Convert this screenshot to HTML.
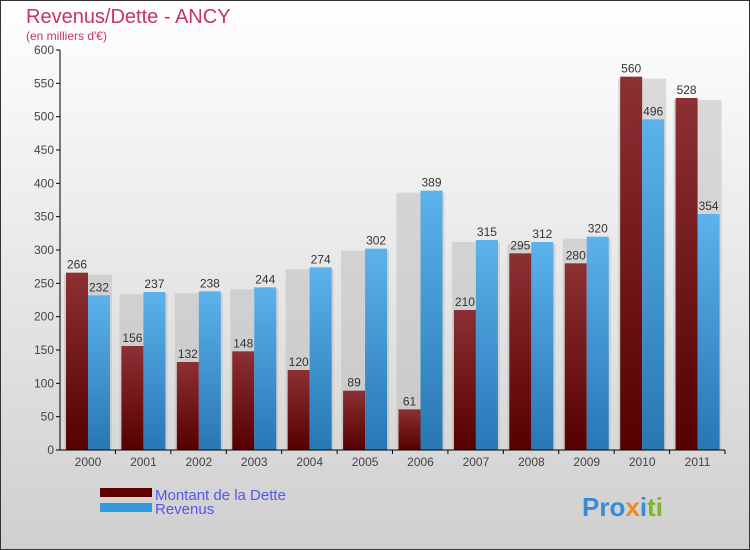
<!DOCTYPE html>
<html><head><meta charset="utf-8"><style>
body{margin:0;width:750px;height:550px;overflow:hidden}
svg{display:block;font-family:"Liberation Sans",sans-serif}
</style></head><body>
<svg id="c" width="750" height="550">
<defs>
<linearGradient id="bg" x1="0" y1="0" x2="0" y2="1"><stop offset="0" stop-color="#ffffff"/><stop offset="1" stop-color="#cfcfcf"/></linearGradient>
<linearGradient id="gd" x1="0" y1="0" x2="0" y2="1"><stop offset="0" stop-color="#8c3034"/><stop offset="1" stop-color="#560000"/></linearGradient>
<linearGradient id="gr" x1="0" y1="0" x2="0" y2="1"><stop offset="0" stop-color="#5cb2ea"/><stop offset="1" stop-color="#2777b5"/></linearGradient>
</defs>
<rect x="0.5" y="0.5" width="749" height="549" fill="url(#bg)" stroke="#333"/>
<text x="26" y="23" font-size="20" fill="#c8326a">Revenus/Dette - ANCY</text>
<text x="26" y="40" font-size="12" fill="#c8326a">(en milliers d'€)</text>
<g id="plot"></g>
<rect x="100" y="488" width="52" height="9" fill="#600000"/>
<rect x="100" y="503" width="52" height="9" fill="#3399dd"/>
<text x="155" y="500" font-size="15" fill="#5555ee">Montant de la Dette</text>
<text x="155" y="514" font-size="15" fill="#5555ee">Revenus</text>
<text x="582" y="516" font-size="26" font-weight="bold"><tspan fill="#3a8ad8">Pro</tspan><tspan fill="#f08a20">x</tspan><tspan fill="#3a8ad8">i</tspan><tspan fill="#7ab82a">ti</tspan></text>
</svg>
<script>
const years=["2000","2001","2002","2003","2004","2005","2006","2007","2008","2009","2010","2011"];
const dette=[266,156,132,148,120,89,61,210,295,280,560,528];
const revenus=[232,237,238,244,274,302,389,315,312,320,496,354];
const yTicks=[0,50,100,150,200,250,300,350,400,450,500,550,600];
const NS="http://www.w3.org/2000/svg";
const g=document.getElementById('plot');
const x0=60,x1=725,yTop=50,yBot=450,yMax=600;
const gw=(x1-x0)/years.length;
const y=v=>yBot-(v/yMax)*(yBot-yTop);
function mk(t,a,p){const e=document.createElementNS(NS,t);for(const k in a)e.setAttribute(k,a[k]);(p||g).appendChild(e);return e;}
yTicks.forEach(v=>{
 const l=mk('line',{x1:x0-4,x2:x0,y1:y(v),y2:y(v),stroke:'#000'});
 
 
 const t=mk('text',{x:x0-6,y:y(v)+4,'font-size':12,fill:'#444','text-anchor':'end'});
 t.textContent=v;
 
 
});
years.forEach((yr,i)=>{
 const gx=x0+gw*i;
 const s=mk('rect',{x:gx+4,y:y(Math.max(dette[i],revenus[i]))+2,width:48,height:yBot-y(Math.max(dette[i],revenus[i]))-2,fill:'#bbb',opacity:0.5});
 
 
 const bd=mk('rect',{x:gx+6,y:y(dette[i]),width:22,height:yBot-y(dette[i]),fill:'url(#gd)'});
 
 
 const br=mk('rect',{x:gx+28,y:y(revenus[i]),width:22,height:yBot-y(revenus[i]),fill:'url(#gr)'});
 
 
 const ld=mk('text',{x:gx+17,y:y(dette[i])-4,'font-size':12,fill:'#333','text-anchor':'middle'});
 ld.textContent=dette[i];
 
 
 const lr=mk('text',{x:gx+39,y:y(revenus[i])-4,'font-size':12,fill:'#333','text-anchor':'middle'});
 lr.textContent=revenus[i];
 
 
 const tk=mk('line',{x1:gx+gw,x2:gx+gw,y1:yBot,y2:yBot+4,stroke:'#000'});
 
 
 const xl=mk('text',{x:gx+28,y:yBot+16,'font-size':12,fill:'#444','text-anchor':'middle'});
 xl.textContent=yr;
 
 
});
const ya=mk('line',{x1:x0,x2:x0,y1:yTop,y2:yBot,stroke:'#000'});


const xa=mk('line',{x1:x0,x2:x1,y1:yBot,y2:yBot,stroke:'#000'});


</script>
</body></html>
